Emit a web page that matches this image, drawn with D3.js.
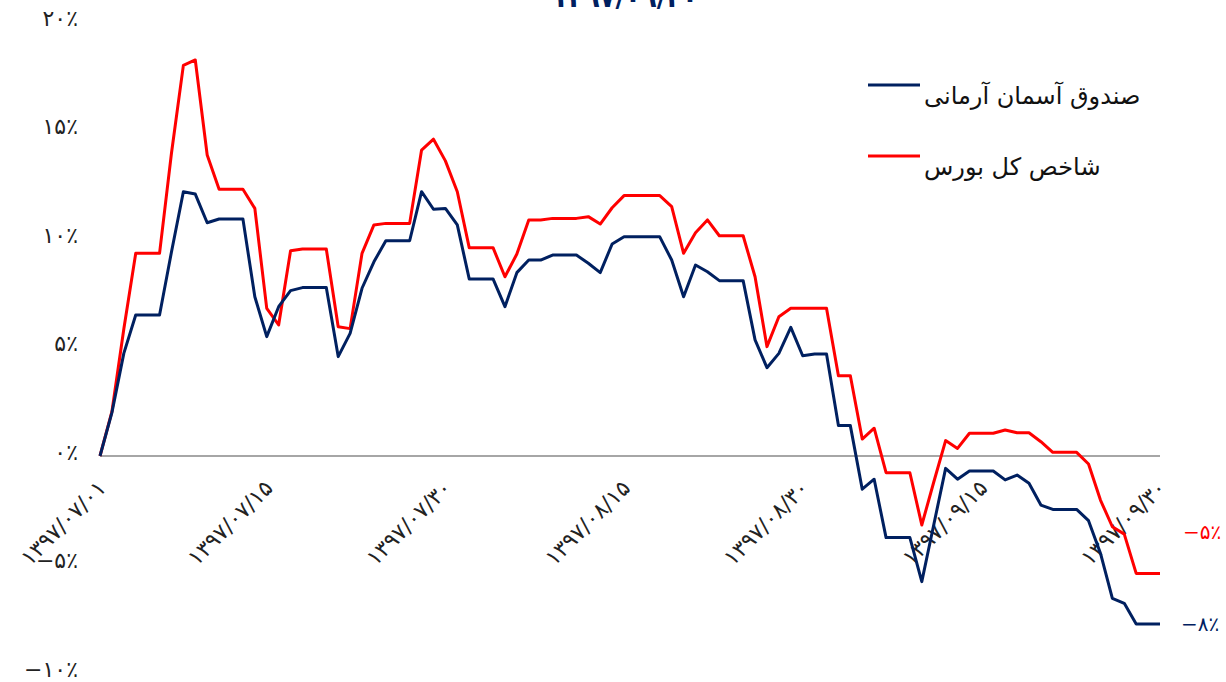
<!DOCTYPE html>
<html>
<head>
<meta charset="utf-8">
<script src="https://cdn.jsdelivr.net/npm/d3@7"></script>
<style>
  body { margin: 0; background: #fff; }
  svg { display: block; font-family: "DejaVu Sans", "Noto Sans", sans-serif; }
</style>
</head>
<body>
<svg id="chart" width="1226" height="682"></svg>
<script>
// daily values, 1397/07/01 .. 1397/09/30 (percent)
var fundValues = [0, 2.0, 4.73, 6.5, 6.5, 6.5, 9.4, 12.18, 12.07, 10.75,
  10.92, 10.92, 10.92, 7.34, 5.5, 6.88, 7.62, 7.76, 7.76, 7.76,
  4.58, 5.65, 7.73, 8.95, 9.92, 9.92, 9.92, 12.18, 11.37, 11.41,
  10.65, 8.16, 8.16, 8.16, 6.88, 8.45, 9.03, 9.03, 9.26, 9.26,
  9.26, 8.88, 8.45, 9.77, 10.1, 10.1, 10.1, 10.1, 9.03, 7.34,
  8.8, 8.49, 8.08, 8.08, 8.08, 5.35, 4.07, 4.73, 5.93, 4.62,
  4.7, 4.7, 1.4, 1.4, -1.53, -1.07, -3.76, -3.76, -3.76, -5.79,
  -3.18, -0.57, -1.07, -0.69, -0.69, -0.69, -1.1, -0.88, -1.26, -2.26,
  -2.46, -2.46, -2.46, -2.98, -4.48, -6.56, -6.79, -7.74, -7.74, -7.74];

var indexValues = [0, 2.04, 5.85, 9.34, 9.34, 9.34, 13.95, 18.0, 18.25, 13.87,
  12.29, 12.29, 12.29, 11.41, 6.8, 6.04, 9.46, 9.54, 9.54, 9.54,
  5.96, 5.87, 9.34, 10.65, 10.72, 10.72, 10.72, 14.1, 14.6, 13.6,
  12.18, 9.6, 9.6, 9.6, 8.26, 9.31, 10.88, 10.88, 10.95, 10.95,
  10.95, 11.03, 10.69, 11.44, 12.0, 12.0, 12.0, 12.0, 11.49, 9.34,
  10.29, 10.88, 10.15, 10.15, 10.15, 8.26, 5.04, 6.42, 6.81, 6.81,
  6.81, 6.81, 3.7, 3.7, 0.78, 1.28, -0.77, -0.77, -0.77, -3.18,
  -1.21, 0.71, 0.35, 1.05, 1.05, 1.05, 1.2, 1.07, 1.07, 0.66,
  0.17, 0.17, 0.17, -0.37, -2.03, -3.26, -3.6, -5.41, -5.41, -5.41];

var tickDays = [0, 14, 29, 44, 59, 74, 89];
var tickLabels = ["۱۳۹۷/۰۷/۰۱", "۱۳۹۷/۰۷/۱۵", "۱۳۹۷/۰۷/۳۰", "۱۳۹۷/۰۸/۱۵",
  "۱۳۹۷/۰۸/۳۰", "۱۳۹۷/۰۹/۱۵", "۱۳۹۷/۰۹/۳۰"];
var yTicks = [20, 15, 10, 5, 0, -5, -10];
var yTickLabels = ["۲۰٪", "۱۵٪", "۱۰٪", "۵٪", "۰٪", "−۵٪", "−۱۰٪"];
var seriesNames = ["صندوق آسمان آرمانی", "شاخص کل بورس"];
var endLabels = ["−۸٪", "−۵٪"];
var titleText = "۱۳۹۷/۰۹/۳۰";

var navy = "#002060", red = "#ff0000";

var svg = d3.select("#chart");

var x = d3.scaleLinear().domain([0, fundValues.length - 1]).range([100, 1160]);
var y = d3.scaleLinear().domain([-10, 20]).range([673, 22]);

// title, mostly cut off at the top (as in the original)
svg.append("text")
  .attr("x", 625).attr("y", 7)
  .attr("text-anchor", "middle")
  .attr("font-size", 26).attr("font-weight", "bold")
  .attr("fill", navy)
  .text(titleText);

// y labels
svg.selectAll(".ylab").data(yTicks).enter().append("text")
  .attr("class", "ylab")
  .attr("x", 78)
  .attr("y", function (d) { return y(d) - 4; })
  .attr("dy", "0.35em")
  .attr("text-anchor", "end")
  .attr("font-size", 22)
  .attr("fill", "#222")
  .text(function (d, i) { return yTickLabels[i]; });

// zero line
svg.append("line")
  .attr("x1", x(0)).attr("x2", x(fundValues.length - 1))
  .attr("y1", y(0)).attr("y2", y(0))
  .attr("stroke", "#898989").attr("stroke-width", 1.5);

// x labels rotated
svg.selectAll(".xlab").data(tickDays).enter().append("text")
  .attr("class", "xlab")
  .attr("transform", function (d) { return "translate(" + (x(d) + 2) + "," + (y(0) + 28) + ") rotate(-45)"; })
  .attr("text-anchor", "end")
  .attr("dy", "0.35em")
  .attr("font-size", 22)
  .attr("fill", "#222")
  .text(function (d, i) { return tickLabels[i]; });

var line = d3.line()
  .x(function (d, i) { return x(i); })
  .y(function (d) { return y(d); });

svg.append("path").datum(indexValues)
  .attr("fill", "none").attr("stroke", red).attr("stroke-width", 3)
  .attr("stroke-linejoin", "round")
  .attr("d", line);

svg.append("path").datum(fundValues)
  .attr("fill", "none").attr("stroke", navy).attr("stroke-width", 3)
  .attr("stroke-linejoin", "round")
  .attr("d", line);

// end labels
var last = fundValues.length - 1;
svg.append("text")
  .attr("x", 1181).attr("y", y(fundValues[last]))
  .attr("dy", "0.35em")
  .attr("font-size", 20).attr("fill", navy)
  .text(endLabels[0]);
svg.append("text")
  .attr("x", 1183).attr("y", y(indexValues[last]) - 41)
  .attr("dy", "0.35em")
  .attr("font-size", 20).attr("fill", red)
  .text(endLabels[1]);

// legend
var legend = [{ name: seriesNames[0], color: navy, y: 85 }, { name: seriesNames[1], color: red, y: 156 }];
legend.forEach(function (d) {
  svg.append("line")
    .attr("x1", 868).attr("x2", 920)
    .attr("y1", d.y).attr("y2", d.y)
    .attr("stroke", d.color).attr("stroke-width", 3);
  svg.append("text")
    .attr("x", 924).attr("y", d.y + 19)
    .attr("font-size", 24).attr("fill", "#111")
    .text(d.name);
});
</script>
</body>
</html>
